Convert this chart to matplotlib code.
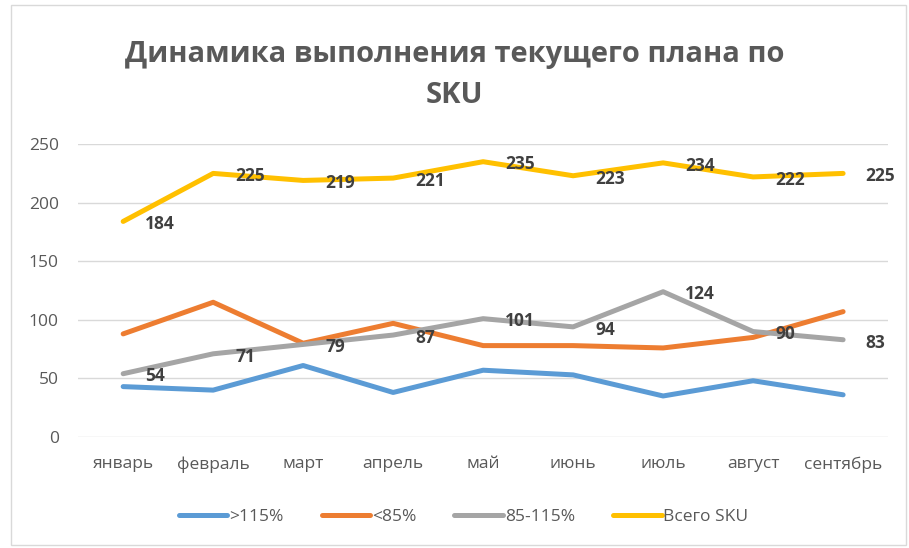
import matplotlib.pyplot as plt
from matplotlib.patches import Rectangle

months = ["январь", "февраль", "март", "апрель", "май", "июнь", "июль", "август", "сентябрь"]
over_115 = [43, 40, 61, 38, 57, 53, 35, 48, 36]
under_85 = [88, 115, 80, 97, 78, 78, 76, 85, 107]
mid_85_115 = [54, 71, 79, 87, 101, 94, 124, 90, 83]
total_sku = [184, 225, 219, 221, 235, 223, 234, 222, 225]

plt.rcParams['font.family'] = ['Open Sans', 'DejaVu Sans']

fig = plt.figure(figsize=(9.09, 5.48), dpi=100)
ax = fig.add_axes([0.086, 0.2026, 0.891, 0.5344])

x = range(len(months))
ax.plot(x, over_115, color="#5B9BD5", lw=3.6, label=">115%", solid_capstyle="round")
ax.plot(x, under_85, color="#ED7D31", lw=3.6, label="<85%", solid_capstyle="round")
ax.plot(x, mid_85_115, color="#A5A5A5", lw=3.6, label="85-115%", solid_capstyle="round")
ax.plot(x, total_sku, color="#FFC000", lw=3.6, label="Всего SKU", solid_capstyle="round")

for series in (mid_85_115, total_sku):
    for i, v in enumerate(series):
        ax.annotate(str(v), (i, v), xytext=(16, -2), textcoords="offset points",
                    ha="left", va="center", fontsize=12.5, fontweight="bold", color="#404040")

ax.set_xlim(-0.5, len(months) - 0.5)
ax.set_ylim(0, 250)
ax.set_yticks(range(0, 251, 50))
ax.set_xticks(list(x))
ax.set_xticklabels(months)
ax.tick_params(length=0, labelsize=12.5, colors="#595959")
ax.tick_params(axis="x", pad=14)
ax.tick_params(axis="y", pad=14)
ax.grid(axis="y", color="#D9D9D9", lw=1)
ax.set_axisbelow(True)
for s in ax.spines.values():
    s.set_visible(False)

fig.text(0.5, 0.9, "Динамика выполнения текущего плана по", ha="center", va="center",
         fontsize=21, fontweight="bold", color="#595959")
fig.text(0.5, 0.826, "SKU", ha="center", va="center",
         fontsize=21, fontweight="bold", color="#595959")

fig.legend(loc="center", bbox_to_anchor=(0.51, 0.057), ncol=4, frameon=False,
           fontsize=12.5, handlelength=2.8, handletextpad=0.1, columnspacing=2.2,
           labelcolor="#595959")

fig.patches.append(Rectangle((0.012, 0.005), 0.985, 0.985, transform=fig.transFigure,
                             fill=False, edgecolor="#D9D9D9", lw=1))

fig.savefig("out.png", dpi=100)
